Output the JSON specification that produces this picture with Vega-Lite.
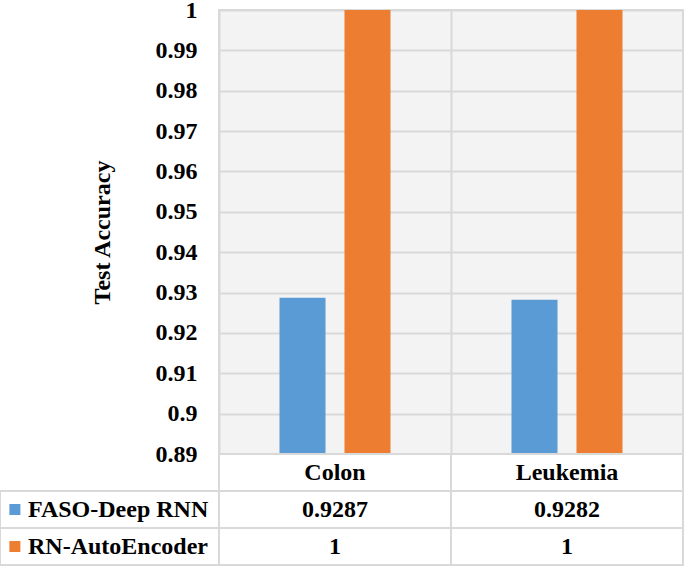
{
  "$schema": "https://vega.github.io/schema/vega-lite/v6.json",
  "padding": {"left": -1, "top": -3, "right": 2, "bottom": 3},
  "background": "white",
  "config": {
    "view": {"stroke": null},
    "font": "Liberation Serif",
    "text": {"font": "Liberation Serif", "fontSize": 24, "fontWeight": "bold", "color": "black"}
  },
  "datasets": {
    "acc": [
      {"dataset": "Colon", "method": "FASO-Deep RNN", "accuracy": 0.9287},
      {"dataset": "Colon", "method": "RN-AutoEncoder", "accuracy": 1},
      {"dataset": "Leukemia", "method": "FASO-Deep RNN", "accuracy": 0.9282},
      {"dataset": "Leukemia", "method": "RN-AutoEncoder", "accuracy": 1}
    ]
  },
  "data": {"name": "acc"},
  "columns": 2,
  "spacing": 0,
  "bounds": "flush",
  "concat": [
    {
      "width": 219,
      "height": 444,
      "mark": {"type": "point", "opacity": 0},
      "encoding": {}
    },
    {
      "width": 464,
      "height": 444,
      "view": {"stroke": "#d9d9d9", "strokeWidth": 2, "fill": "#f3f3f3"},
      "mark": {"type": "bar"},
      "encoding": {
        "x": {
          "field": "dataset", "type": "nominal",
          "scale": {"paddingInner": 0, "paddingOuter": 0},
          "axis": {"title": null, "labels": false, "ticks": false, "domain": false, "grid": true, "bandPosition": 0, "gridColor": "#d9d9d9", "gridWidth": 2}
        },
        "xOffset": {"field": "method", "type": "nominal", "scale": {"paddingInner": 0.292, "paddingOuter": 0.931}},
        "y": {
          "field": "accuracy", "type": "quantitative",
          "scale": {"domain": [0.89, 1], "zero": false, "nice": false},
          "axis": {
            "title": "Test Accuracy",
            "values": [0.89, 0.9, 0.91, 0.92, 0.93, 0.94, 0.95, 0.96, 0.97, 0.98, 0.99, 1],
            "format": "~g",
            "ticks": false, "domain": false,
            "labelPadding": 22,
            "labelFont": "Liberation Serif", "labelFontWeight": "bold", "labelFontSize": 24, "labelColor": "black",
            "titleFont": "Liberation Serif", "titleFontWeight": "bold", "titleFontSize": 24, "titleColor": "black",
            "titlePadding": 41,
            "gridColor": "#d9d9d9", "gridWidth": 2
          }
        },
        "color": {"field": "method", "type": "nominal", "scale": {"domain": ["FASO-Deep RNN", "RN-AutoEncoder"], "range": ["#5B9BD5", "#ED7D31"]}, "legend": null}
      }
    },
    {
      "width": 219,
      "height": 111,
      "transform": [{"aggregate": [], "groupby": ["method"]}],
      "encoding": {
        "y": {"field": "method", "type": "nominal", "scale": {"domain": ["header", "FASO-Deep RNN", "RN-AutoEncoder"], "paddingInner": 0, "paddingOuter": 0}, "axis": null}
      },
      "layer": [
        {
          "mark": {"type": "rect", "fill": "white", "stroke": "#d9d9d9", "strokeWidth": 2},
          "encoding": {}
        },
        {
          "mark": {"type": "square", "size": 121, "opacity": 1, "filled": true},
          "encoding": {
            "x": {"datum": 0.068, "type": "quantitative", "scale": {"domain": [0, 1]}, "axis": null},
            "color": {"field": "method", "type": "nominal", "scale": {"domain": ["FASO-Deep RNN", "RN-AutoEncoder"], "range": ["#5B9BD5", "#ED7D31"]}, "legend": null}
          }
        },
        {
          "mark": {"type": "text", "align": "left", "baseline": "middle"},
          "encoding": {
            "x": {"datum": 0.128, "type": "quantitative"},
            "text": {"field": "method", "type": "nominal"}
          }
        }
      ],
      "resolve": {"scale": {"x": "shared"}}
    },
    {
      "width": 464,
      "height": 111,
      "layer": [
        {
          "mark": {"type": "rect", "fill": "white", "stroke": "#d9d9d9", "strokeWidth": 2},
          "encoding": {
            "x": {"field": "dataset", "type": "nominal"},
            "y": {"field": "method", "type": "nominal"}
          }
        },
        {
          "transform": [{"aggregate": [], "groupby": ["dataset"]}],
          "mark": {"type": "rect", "fill": "white", "stroke": "#d9d9d9", "strokeWidth": 2},
          "encoding": {
            "x": {"field": "dataset", "type": "nominal"},
            "y": {"datum": "header", "type": "nominal"}
          }
        },
        {
          "transform": [{"aggregate": [], "groupby": ["dataset"]}],
          "mark": {"type": "text", "baseline": "middle"},
          "encoding": {
            "x": {"field": "dataset", "type": "nominal"},
            "y": {"datum": "header", "type": "nominal"},
            "text": {"field": "dataset", "type": "nominal"}
          }
        },
        {
          "mark": {"type": "text", "baseline": "middle"},
          "encoding": {
            "x": {"field": "dataset", "type": "nominal"},
            "y": {"field": "method", "type": "nominal"},
            "text": {"field": "accuracy", "type": "nominal"}
          }
        }
      ],
      "encoding": {
        "x": {"field": "dataset", "type": "nominal", "scale": {"domain": ["Colon", "Leukemia"], "paddingInner": 0, "paddingOuter": 0}, "axis": null},
        "y": {"field": "method", "type": "nominal", "scale": {"domain": ["header", "FASO-Deep RNN", "RN-AutoEncoder"], "paddingInner": 0, "paddingOuter": 0}, "axis": null}
      }
    }
  ]
}
